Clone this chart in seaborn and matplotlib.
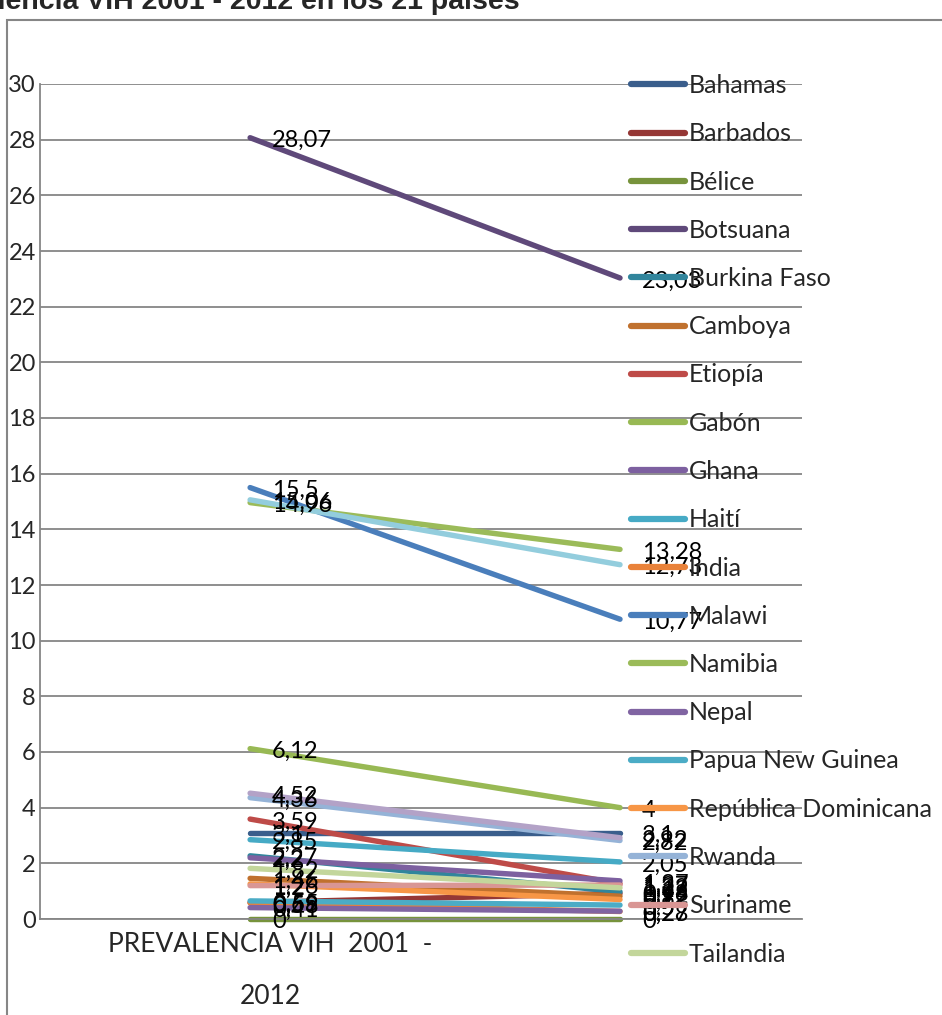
import matplotlib
matplotlib.use("Agg")
import matplotlib.pyplot as plt
import matplotlib.transforms as mtransforms
from matplotlib.patches import Rectangle
import seaborn as sns
import pandas as pd

# Prevalencia de VIH (%) por país, 2001 y 2012
countries = ["Bahamas", "Barbados", "Bélice", "Botsuana", "Burkina Faso", "Camboya",
             "Etiopía", "Gabón", "Ghana", "Haití", "India", "Malawi", "Namibia", "Nepal",
             "Papua New Guinea", "República Dominicana", "Rwanda", "Suriname", "Tailandia",
             "Togo", "Zambia"]
prev_2001 = [3.1, 0.59, 0, 28.07, 2.27, 1.46, 3.59, 6.12, 2.2, 2.85, 0.58, 15.5, 14.96,
             0.41, 0.65, 1.26, 4.36, 1.2, 1.82, 4.52, 15.06]
prev_2012 = [3.1, 0.92, 0, 23.03, 0.98, 0.82, 1.27, 4.0, 1.37, 2.05, 0.27, 10.77, 13.28,
             0.28, 0.5, 0.7, 2.82, 1.22, 1.12, 2.92, 12.73]
colors = ["#3A5E8C", "#953735", "#77933C", "#5F497A", "#31859C", "#C0712E",
          "#BE4B48", "#98B954", "#7D60A0", "#46AAC5", "#E9823A", "#4A7EBB", "#9BBB59",
          "#8064A2", "#4BACC6", "#F79646", "#95B3D7", "#D99694", "#C3D69B",
          "#B3A2C7", "#93CDDD"]
category_label = "PREVALENCIA VIH  2001  -\n2012"
yticks = list(range(0, 31, 2))

df = pd.DataFrame({
    "pais": countries * 2,
    "pos": [0] * len(countries) + [1] * len(countries),
    "valor": prev_2001 + prev_2012,
})

sns.set_theme(style="white")
plt.rcParams["font.family"] = ["Lato", "DejaVu Sans"]

W, H = 942, 1015
fig = plt.figure(figsize=(W / 100, H / 100), dpi=100)
ax = fig.add_axes([40 / W, 1 - 919 / H, (802 - 40) / W, (919 - 84) / H])

sns.lineplot(data=df, x="pos", y="valor", hue="pais", hue_order=countries,
             palette=dict(zip(countries, colors)), linewidth=3.9, ax=ax,
             legend=True, solid_capstyle="round", clip_on=False)

ax.set_xlim(-0.568, 1.492)
ax.set_ylim(0, 30)
ax.set_yticks(yticks)
ax.set_yticklabels([str(t) for t in yticks], fontsize=17)
ax.yaxis.grid(True, color="#868686", linewidth=1.3)
ax.set_axisbelow(True)
ax.tick_params(axis="y", length=0, pad=3)
ax.set_xticks([0])
ax.set_xticklabels([category_label], fontsize=19, linespacing=2.4)
ax.tick_params(axis="x", length=0, pad=9)
for lbl in ax.get_xticklabels():
    lbl.set_transform(lbl.get_transform() + mtransforms.ScaledTranslation(0.2, 0, fig.dpi_scale_trans))
ax.set_xlabel("")
ax.set_ylabel("")
for side in ["top", "right"]:
    ax.spines[side].set_visible(False)
ax.spines["left"].set_color("#868686")
ax.spines["left"].set_linewidth(1.3)
ax.spines["bottom"].set_color("#868686")
ax.spines["bottom"].set_linewidth(1.3)

# etiquetas de valor a la derecha de cada punto
off = mtransforms.offset_copy(ax.transData, fig=fig, x=22, y=-3, units="dots")
for v0, v1 in zip(prev_2001, prev_2012):
    for x, v in ((0, v0), (1, v1)):
        txt = f"{v:g}".replace(".", ",")
        ax.text(x, v, txt, transform=off, ha="left", va="center", fontsize=17,
                color="black", zorder=5)

# leyenda (solo caben las primeras 19 series)
handles, labels = ax.get_legend_handles_labels()
ax.legend(handles[:19], labels[:19], loc="upper left",
          bbox_to_anchor=(621 / W, 1 - 64 / H), bbox_transform=fig.transFigure,
          frameon=False, fontsize=18, handlelength=2.15, handletextpad=0.16,
          labelspacing=1.01, borderaxespad=0)
for h in ax.get_legend().get_lines():
    h.set_linewidth(4.5)
    h.set_solid_capstyle("round")

# borde del área del gráfico
fig.patches.append(Rectangle((7 / W, -0.2), 1.2, 1 - 20 / H + 0.2, transform=fig.transFigure,
                             fill=False, edgecolor="#868686", linewidth=1.5))

fig.text(520 / W, 1 - 9 / H, "Prevalencia VIH 2001 - 2012 en los 21 países",
         ha="right", va="baseline", fontsize=20.5, fontweight="bold",
         family=["Liberation Sans", "DejaVu Sans"])

fig.savefig("out.png", dpi=100)
